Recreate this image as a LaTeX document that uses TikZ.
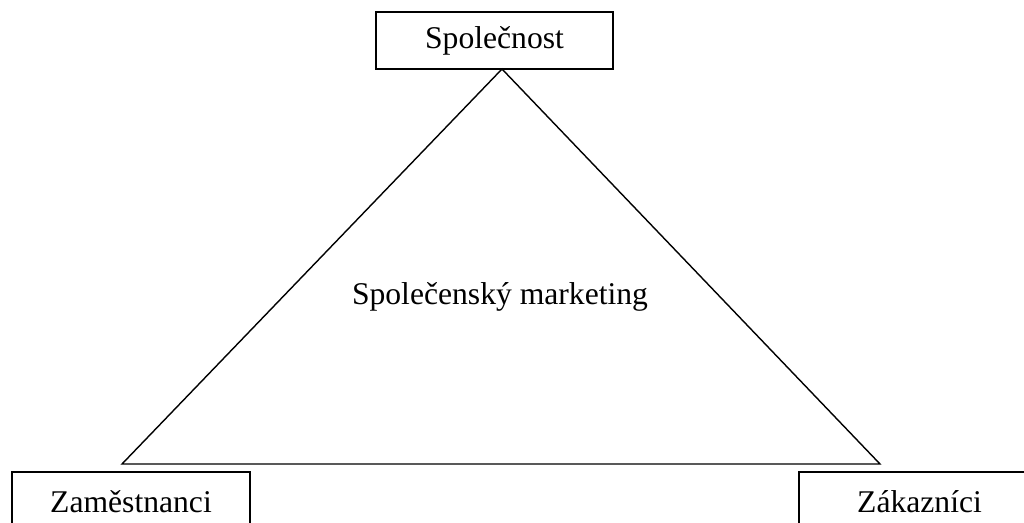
\documentclass[tikz,border=0pt]{standalone}
\usepackage{fontspec}
\setmainfont{Liberation Serif}
\usepackage{tikz}

\begin{document}
\begin{tikzpicture}[x=0.02cm,y=-0.02cm,line width=0.8pt,
        box/.style={draw,inner sep=0pt,minimum height=1.14cm},
        lbl/.style={font=\fontsize{18}{22}\selectfont}]
        \useasboundingbox (0,0) rectangle (1024,522);
        \clip (0,0) rectangle (1024,522);

        \node[box,lbl,minimum width=4.74cm] (spol) at (494.5,40.5) {Společnost};
        \node[box,lbl,minimum width=4.76cm,minimum height=1.2cm] (zam) at (131,502) {Zaměstnanci};
        \node[box,lbl,minimum width=4.82cm,minimum height=1.2cm] (zak) at (919.5,502) {Zákazníci};

        \coordinate (apex) at (502,69);
        \coordinate (bl) at (122,464);
        \coordinate (br) at (880,464);
        \draw (apex) -- (bl) -- (br) -- cycle;

        \node[lbl] (mkt) at (500,297) {Společenský marketing};

    \end{tikzpicture}
\end{document}
